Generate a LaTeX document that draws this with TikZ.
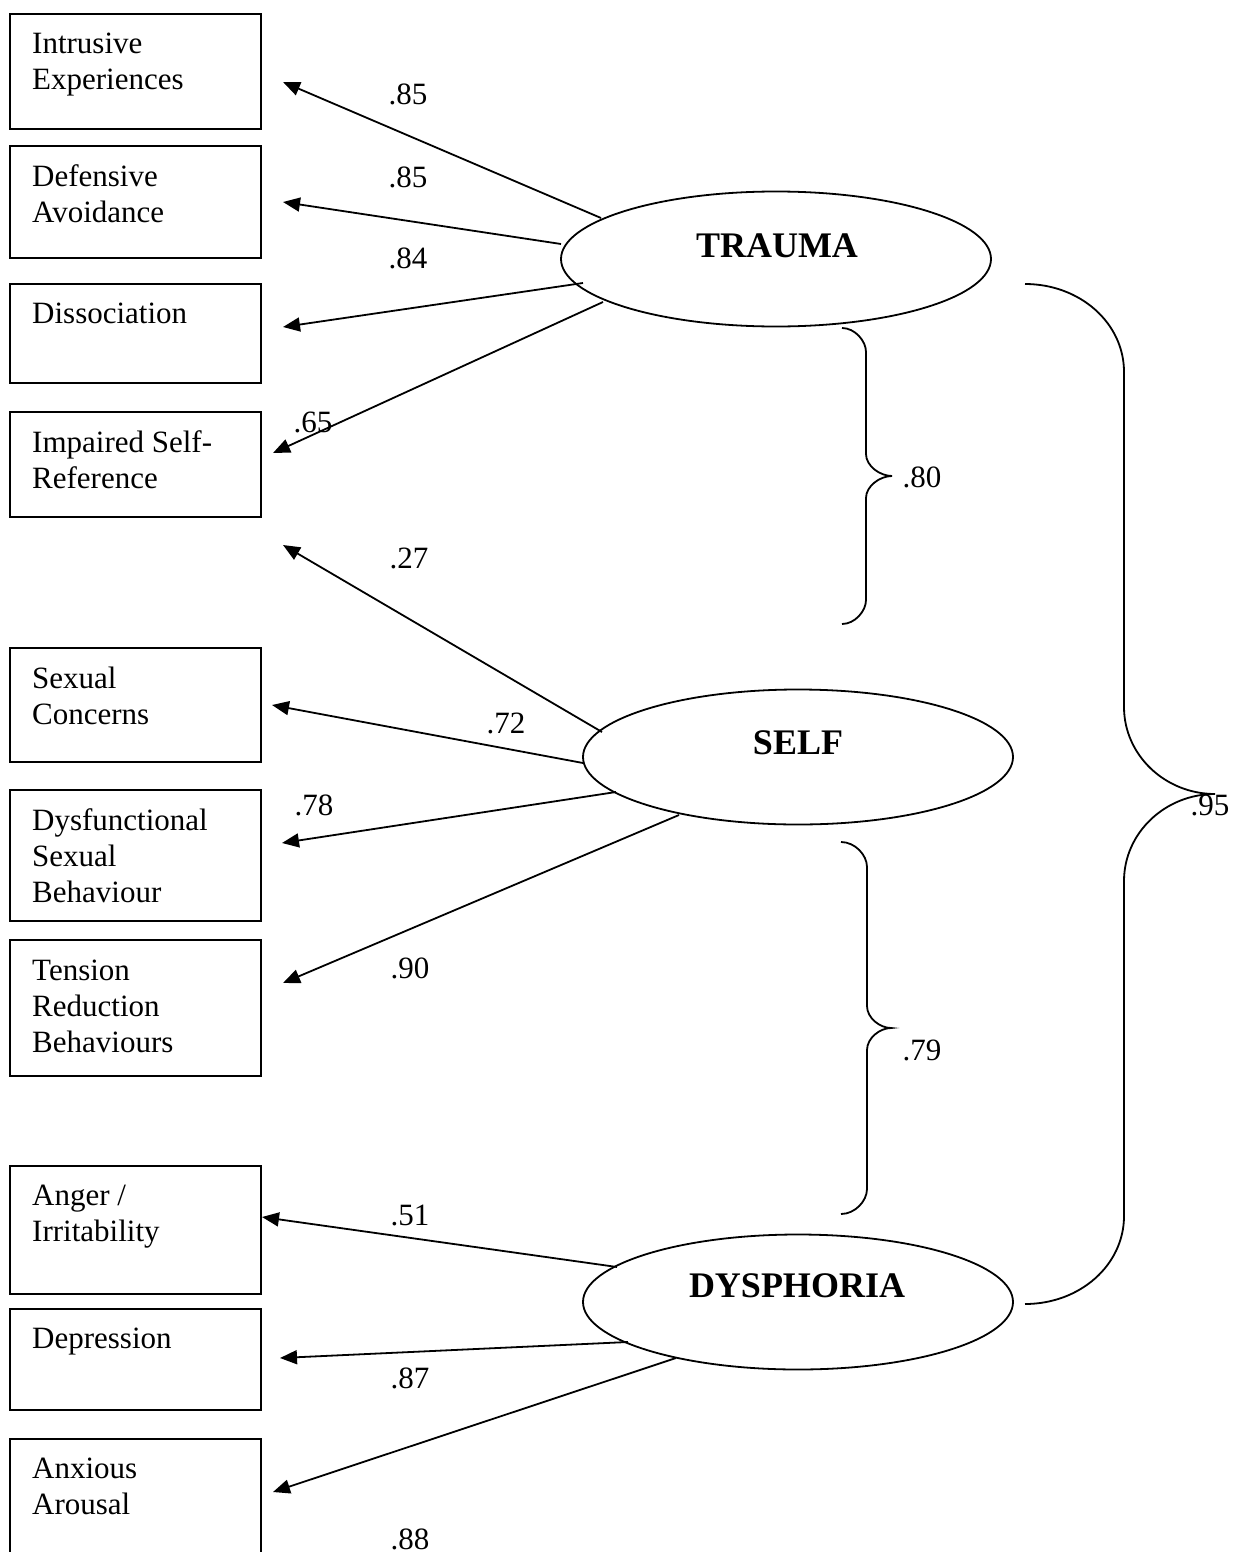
\documentclass[tikz,border=0pt]{standalone}
\usepackage{fontspec}
\setmainfont{Liberation Serif}
\usetikzlibrary{shapes.geometric,arrows.meta,calc}
\begin{document}
\begin{tikzpicture}[x=1pt,y=-1pt,
  obs/.style={draw,line width=1.8pt,rectangle,inner sep=0pt,minimum width=251pt},
  lat/.style={draw,line width=1.8pt,ellipse,inner sep=0pt,minimum width=430pt,minimum height=135pt},
  lattxt/.style={anchor=base,inner sep=0pt,font=\fontsize{36}{40}\selectfont\bfseries},
  txt/.style={anchor=base west,inner sep=0pt,align=left,font=\fontsize{31}{36}\selectfont},
  coef/.style={anchor=base,inner sep=0pt,font=\fontsize{31}{36}\selectfont},
  arr/.style={line width=1.8pt,-{Triangle[length=17pt,width=14pt]}},
  brace/.style={line width=1.8pt}]
\useasboundingbox (0,0) rectangle (1232,1552);
% observed boxes
\node[obs,minimum height=115pt] (b1) at (135.5,71.5) {};
\node[obs,minimum height=112pt] (b2) at (135.5,202) {};
\node[obs,minimum height=99pt] (b3) at (135.5,333.5) {};
\node[obs,minimum height=105pt] (b4) at (135.5,464.5) {};
\node[obs,minimum height=114pt] (b5) at (135.5,705) {};
\node[obs,minimum height=131pt] (b6) at (135.5,855.5) {};
\node[obs,minimum height=136pt] (b7) at (135.5,1008) {};
\node[obs,minimum height=128pt] (b8) at (135.5,1230) {};
\node[obs,minimum height=101pt] (b9) at (135.5,1359.5) {};
\node[obs,minimum height=131pt] (b10) at (135.5,1504.5) {};
% box texts (anchored at the baseline of their last line)
\node[txt] (t1) at (32,90) {Intrusive\\Experiences};
\node[txt] (t2) at (32,222) {Defensive\\Avoidance};
\node[txt] (t3) at (32,323) {Dissociation};
\node[txt] (t4) at (32,488) {Impaired Self-\\Reference};
\node[txt] (t5) at (32,724) {Sexual\\Concerns};
\node[txt] (t6) at (32,902) {Dysfunctional\\Sexual\\Behaviour};
\node[txt] (t7) at (32,1052) {Tension\\Reduction\\Behaviours};
\node[txt] (t8) at (32,1241) {Anger /\\Irritability};
\node[txt] (t9) at (32,1348) {Depression};
\node[txt] (t10) at (32,1514) {Anxious\\Arousal};
% latent ellipses
\node[lat] (trauma) at (776,259) {};
\node[lattxt] (traumaT) at (777,257) {TRAUMA};
\node[lat] (self) at (798,757) {};
\node[lattxt] (selfT) at (798,754) {SELF};
\node[lat] (dys) at (798,1302) {};
\node[lattxt] (dysT) at (797,1297) {DYSPHORIA};
% arrow tips
\coordinate (p1) at (283,82);
\coordinate (p2) at (283,202);
\coordinate (p3) at (283,327);
\coordinate (p4) at (273,453);
\coordinate (p5) at (283,545);
\coordinate (p6) at (272,705);
\coordinate (p7) at (282,843);
\coordinate (p8) at (283,983);
\coordinate (p9) at (262,1217);
\coordinate (p10) at (280,1358);
\coordinate (p11) at (273,1492);
% loadings
\draw[arr] ($(trauma.center)+(-175,-41)$) -- (p1);
\draw[arr] ($(trauma.center)+(-215,-15)$) -- (p2);
\draw[arr] ($(trauma.center)+(-193,24)$) -- (p3);
\draw[arr] ($(trauma.center)+(-173,43)$) -- (p4);
\draw[arr] ($(self.center)+(-196,-25)$) -- (p5);
\draw[arr] ($(self.center)+(-215,6)$) -- (p6);
\draw[arr] ($(self.center)+(-182,35)$) -- (p7);
\draw[arr] ($(self.center)+(-119,58)$) -- (p8);
\draw[arr] ($(dys.center)+(-181,-35)$) -- (p9);
\draw[arr] ($(dys.center)+(-170,40)$) -- (p10);
\draw[arr] ($(dys.center)+(-122,56)$) -- (p11);
% coefficient labels
\node[coef] (c1) at (408,105) {.85};
\node[coef] (c2) at (408,187) {.85};
\node[coef] (c3) at (408,268) {.84};
\node[coef] (c4) at (313,432) {.65};
\node[coef] (c5) at (409,568) {.27};
\node[coef] (c6) at (506,733) {.72};
\node[coef] (c7) at (314,815) {.78};
\node[coef] (c8) at (410,978) {.90};
\node[coef] (c9) at (410,1225) {.51};
\node[coef] (c10) at (410,1388) {.87};
\node[coef] (c11) at (410,1549) {.88};
% braces (correlations)
\draw[brace] (842,328) .. controls (855,328) and (866,341) .. (866,352)
  -- (866,454) .. controls (866,466) and (880,476) .. (892,476)
  .. controls (880,476) and (866,486) .. (866,498)
  -- (866,600) .. controls (866,611) and (855,624) .. (842,624);
\node[coef] (r1) at (922,487) {.80};
\draw[brace] (841,842) .. controls (855,842) and (867,855) .. (867,867)
  -- (867,1006) .. controls (867,1018) and (880,1028) .. (891,1028)
  .. controls (880,1028) and (867,1038) .. (867,1050)
  -- (867,1189) .. controls (867,1201) and (855,1214) .. (841,1214);
\node[coef] (r2) at (922,1060) {.79};
\draw[brace] (1025,284) .. controls (1080,284) and (1124,323) .. (1124,372)
  -- (1124,707) .. controls (1124,755) and (1165,794) .. (1215,794)
  .. controls (1165,794) and (1124,833) .. (1124,881)
  -- (1124,1216) .. controls (1124,1265) and (1080,1304) .. (1025,1304);
\node[coef] (r3) at (1210,815) {.95};
\end{tikzpicture}
\end{document}
